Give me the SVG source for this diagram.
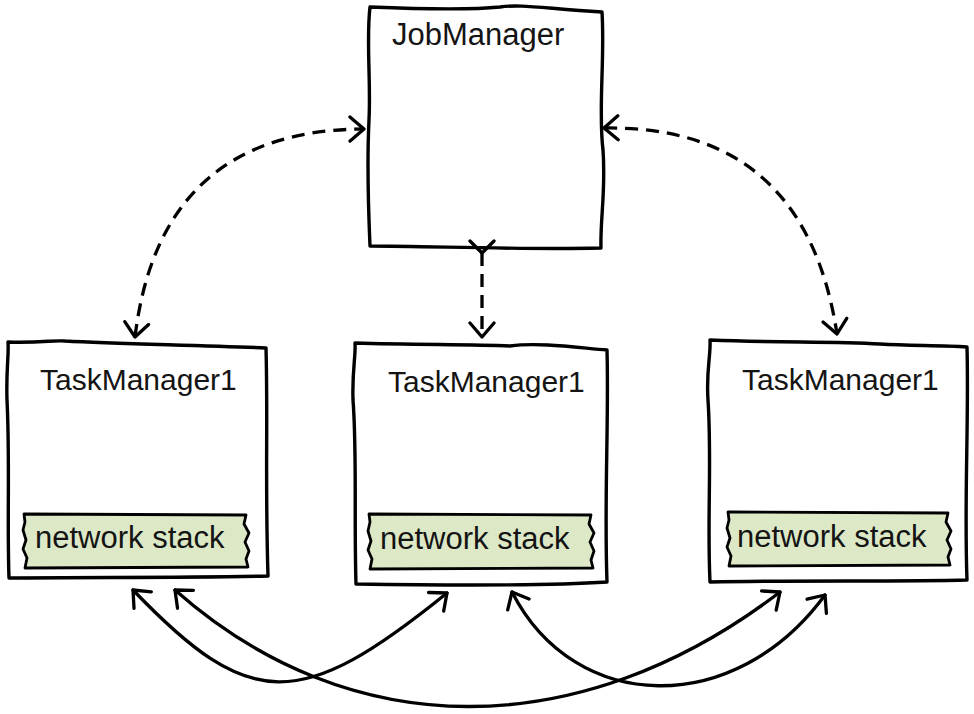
<svg xmlns="http://www.w3.org/2000/svg" width="974" height="714" viewBox="0 0 974 714">
<style>
.box{fill:#fff;stroke:#000;stroke-width:3.4;stroke-linejoin:round}
.tag{fill:#dde9c6;stroke:#000;stroke-width:2.8;stroke-linejoin:round}
.lbl{font-family:"Liberation Sans",Arial,sans-serif;font-size:30px;fill:#141414}
.tl{font-family:"Liberation Sans",Arial,sans-serif;font-size:31px;fill:#141414}
.dash{fill:none;stroke:#000;stroke-width:3.3;stroke-dasharray:13 8}
.solid{fill:none;stroke:#000;stroke-width:3.3;stroke-linecap:round}
</style>
<defs>
<marker id="ah" markerUnits="userSpaceOnUse" viewBox="0 0 18 28" refX="16" refY="14" markerWidth="18" markerHeight="28" orient="auto-start-reverse">
<path d="M2,2 L16,14 L2,26" fill="none" stroke="#000" stroke-width="3.3" stroke-linecap="round" stroke-linejoin="round"/>
</marker>
<marker id="ahf" markerUnits="userSpaceOnUse" viewBox="0 0 18 28" refX="16" refY="14" markerWidth="18" markerHeight="28" orient="auto">
<path d="M4,2 L16,14 L4,26" fill="none" stroke="#000" stroke-width="3.3" stroke-linecap="round" stroke-linejoin="round"/>
</marker>
</defs>

<g id="jobmanager">
<path class="box" d="M370,7 C420,9 470,10 500,7 C520,4 540,8 602,12 C605,60 598,110 603,150 C606,190 600,220 601,248 C520,250 430,246 370,246 C368,200 367,160 369,120 C371,80 366,40 370,7 Z"/>
<text class="tl" x="392" y="45">JobManager</text>
</g>

<g id="taskmanager-left">
<path class="box" d="M8,342 C40,343 55,340 65,341 C120,344 200,345 266,348 C268,420 265,480 268,576 C180,578 90,577 9,578 C7,520 10,460 7,400 C6,370 9,355 8,342 Z"/>
<text class="lbl" x="40" y="390">TaskManager1</text>
<path class="tag" d="M24,514 L246,515 L244,524 L249,533 L245,542 L249,551 L246,559 L248,567 L25,568 L27,558 L23,549 L26,540 L23,530 L25,522 Z"/>
<text class="tl" x="35" y="548">network stack</text>
</g>

<g id="taskmanager-middle">
<path class="box" d="M355,343 C420,345 470,344 510,346 C540,342 580,348 607,350 C609,420 604,500 607,582 C560,585 480,586 356,584 C354,520 357,450 353,400 C352,370 356,355 355,343 Z"/>
<text class="lbl" x="388" y="392">TaskManager1</text>
<path class="tag" d="M369,514 L591,515 L589,524 L594,533 L590,542 L594,551 L591,560 L593,568 L370,569 L372,559 L368,550 L371,541 L368,531 L370,522 Z"/>
<text class="tl" x="380" y="549">network stack</text>
</g>

<g id="taskmanager-right">
<path class="box" d="M710,340 C780,343 830,341 880,344 C910,346 940,345 967,347 C969,420 964,500 967,580 C900,582 800,580 710,582 C707,520 712,460 708,400 C706,370 711,355 710,340 Z"/>
<text class="lbl" x="742" y="390">TaskManager1</text>
<path class="tag" d="M728,512 L948,513 L946,522 L951,531 L947,540 L951,549 L948,557 L950,565 L729,566 L731,556 L727,547 L730,538 L727,528 L729,520 Z"/>
<text class="tl" x="737" y="547">network stack</text>
</g>

<g id="connectors">
<path class="dash" d="M135,337 Q160,130 364,129" marker-start="url(#ah)" marker-end="url(#ah)"/>
<path class="dash" d="M604,128 Q805,125 837,334" marker-start="url(#ah)" marker-end="url(#ah)"/>
<path class="dash" d="M482,253 L482,337" marker-start="url(#ahf)" marker-end="url(#ah)"/>
<path class="solid" d="M133,590 C250,712 300,712 447,593" marker-start="url(#ah)" marker-end="url(#ah)"/>
<path class="solid" d="M175,590 C350,745 580,745 780,592" marker-start="url(#ah)" marker-end="url(#ah)"/>
<path class="solid" d="M512,592 C575,715 735,718 825,595" marker-start="url(#ah)" marker-end="url(#ah)"/>
</g>
</svg>
